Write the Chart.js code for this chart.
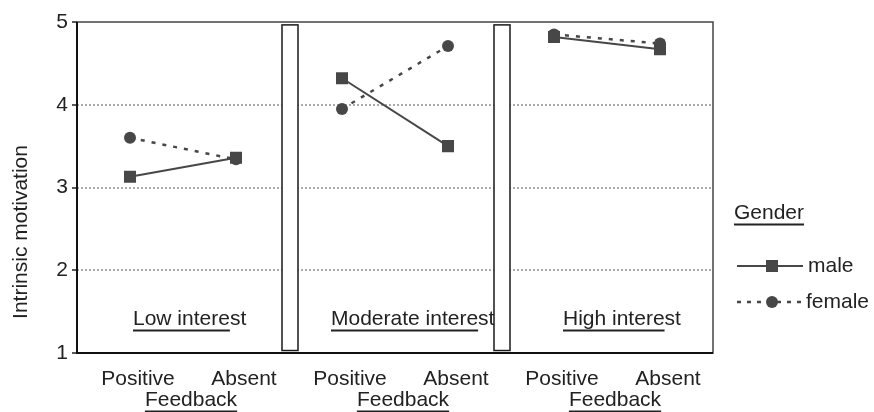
<!DOCTYPE html>
<html>
<head>
<meta charset="utf-8">
<script src="https://cdn.jsdelivr.net/npm/chart.js@4/dist/chart.umd.min.js"></script>
<style>
html, body { margin: 0; padding: 0; background: #fff; }
#wrap { width: 874px; height: 412px; }
</style>
</head>
<body>
<div id="wrap"><canvas id="chart"></canvas></div>
<script>
// Data
const feedbackLabels = ['Positive', 'Absent', 'Positive', 'Absent', 'Positive', 'Absent'];
const interestLabels = ['Low interest', 'Moderate interest', 'High interest'];
const maleValues = [3.13, 3.36, 4.32, 3.50, 4.82, 4.67];
const femaleValues = [3.60, 3.34, 3.95, 4.71, 4.85, 4.74];
const yTicks = [1, 2, 3, 4, 5];

const FONT = "'Liberation Sans', Arial, sans-serif";
const INK = '#222';
const MARK = '#474747';

// hide the segment that would join two panels
const panelGap = ctx => (ctx.p0DataIndex % 2 === 1 ? 'transparent' : undefined);

function underlinedText(ctx, text, x, y, underlineChars) {
    ctx.fillText(text, x, y);
    const w = ctx.measureText(text.slice(0, underlineChars)).width;
    let x0 = x;
    if (ctx.textAlign === 'center') x0 = x - ctx.measureText(text).width / 2;
    ctx.beginPath();
    ctx.moveTo(x0, y + 11.5);
    ctx.lineTo(x0 + w, y + 11.5);
    ctx.lineWidth = 2;
    ctx.strokeStyle = INK;
    ctx.stroke();
}

const panelDecor = {
    id: 'panelDecor',
    beforeDatasetsDraw(chart) {
        const { ctx, scales: { x, y } } = chart;
        ctx.save();
        // panel names
        ctx.font = '21px ' + FONT;
        ctx.fillStyle = INK;
        ctx.textAlign = 'left';
        ctx.textBaseline = 'middle';
        const nudge = [3, -11, 9];
        interestLabels.forEach((name, i) => {
            underlinedText(ctx, name, x.getPixelForValue(i * 2) + nudge[i], y.getPixelForValue(1.41), name.length - 2);
        });
        // separators between panels
        [1.5, 3.5].forEach(v => {
            const cx = x.getPixelForValue(v) + 1;
            const top = y.getPixelForValue(4.965);
            const bot = y.getPixelForValue(1.03);
            ctx.fillStyle = '#fff';
            ctx.fillRect(cx - 8, top, 16, bot - top);
            ctx.strokeStyle = '#1a1a1a';
            ctx.lineWidth = 1.5;
            ctx.strokeRect(cx - 8, top, 16, bot - top);
        });
        ctx.restore();
    },
    afterDraw(chart) {
        const { ctx, chartArea: a, scales: { x } } = chart;
        ctx.save();
        // frame
        ctx.strokeStyle = '#444';
        ctx.lineWidth = 1.5;
        ctx.strokeRect(a.left, a.top, a.right - a.left, a.bottom - a.top);
        ctx.strokeStyle = '#111';
        ctx.lineWidth = 2;
        ctx.beginPath();
        ctx.moveTo(a.left, a.top);
        ctx.lineTo(a.left, a.bottom);
        ctx.lineTo(a.right, a.bottom);
        ctx.stroke();

        ctx.font = '21px ' + FONT;
        ctx.fillStyle = INK;
        ctx.textBaseline = 'middle';

        // y axis title, sits low like the original
        ctx.save();
        ctx.translate(21, 232);
        ctx.rotate(-Math.PI / 2);
        ctx.textAlign = 'center';
        ctx.fillText('Intrinsic motivation', 0, 0);
        ctx.restore();

        // "Feedback" under each pair
        ctx.textAlign = 'center';
        for (let p = 0; p < 3; p++) {
            const cx = (x.getPixelForValue(p * 2) + x.getPixelForValue(p * 2 + 1)) / 2 + 8;
            underlinedText(ctx, 'Feedback', cx, 400, 8);
        }

        // legend
        const lx = a.right + 21;
        ctx.textAlign = 'left';
        underlinedText(ctx, 'Gender', lx, 213, 6);
        const l0 = a.right + 24, l1 = a.right + 90, mx = a.right + 59;
        ctx.strokeStyle = MARK;
        ctx.fillStyle = MARK;
        ctx.lineWidth = 2;
        ctx.beginPath();
        ctx.moveTo(l0, 266); ctx.lineTo(l1, 266);
        ctx.stroke();
        ctx.fillRect(mx - 6, 260, 12, 12);
        ctx.lineWidth = 2.5;
        ctx.setLineDash([4, 6]);
        ctx.beginPath();
        ctx.moveTo(l0, 302); ctx.lineTo(l1, 302);
        ctx.stroke();
        ctx.setLineDash([]);
        ctx.beginPath();
        ctx.arc(mx, 302, 6, 0, Math.PI * 2);
        ctx.fill();
        ctx.fillStyle = INK;
        ctx.fillText('male', a.right + 95, 266);
        ctx.fillText('female', a.right + 93, 302);
        ctx.restore();
    }
};

new Chart(document.getElementById('chart'), {
    type: 'line',
    data: {
        labels: feedbackLabels,
        datasets: [
            {
                label: 'male',
                data: maleValues,
                borderColor: MARK,
                backgroundColor: MARK,
                borderWidth: 2,
                pointStyle: 'rect',
                pointRadius: 8.5,
                pointBorderWidth: 0,
                segment: { borderColor: panelGap }
            },
            {
                label: 'female',
                data: femaleValues,
                borderColor: MARK,
                backgroundColor: MARK,
                borderWidth: 2.5,
                borderDash: [4, 7],
                pointStyle: 'circle',
                pointRadius: 6,
                pointBorderWidth: 0,
                segment: { borderColor: panelGap }
            }
        ]
    },
    options: {
        responsive: true,
        maintainAspectRatio: false,
        animation: false,
        events: [],
        layout: { padding: { top: 22, right: 161, left: 0, bottom: 0 } },
        plugins: {
            legend: { display: false },
            title: { display: false },
            tooltip: { enabled: false }
        },
        scales: {
            x: {
                offset: true,
                grid: { display: false },
                border: { display: false },
                ticks: {
                    color: INK,
                    font: { family: FONT, size: 21 },
                    padding: 6,
                    labelOffset: 8,
                    maxRotation: 0,
                    autoSkip: false
                },
                afterFit(scale) { scale.height = 59; }
            },
            y: {
                min: 1,
                max: 5,
                afterBuildTicks(scale) { scale.ticks = yTicks.map(v => ({ value: v })); },
                grid: {
                    color: c => (c.tick.value === 1 || c.tick.value === 5 ? 'transparent' : '#aaa'),
                    lineWidth: 2,
                    tickColor: '#222',
                    tickLength: 5,
                    tickWidth: 1.5
                },
                border: { display: false, dash: [2, 2] },
                ticks: {
                    color: INK,
                    font: { family: FONT, size: 21 },
                    padding: 4
                },
                afterFit(scale) { scale.width = 77; }
            }
        }
    },
    plugins: [panelDecor]
});
</script>
</body>
</html>
